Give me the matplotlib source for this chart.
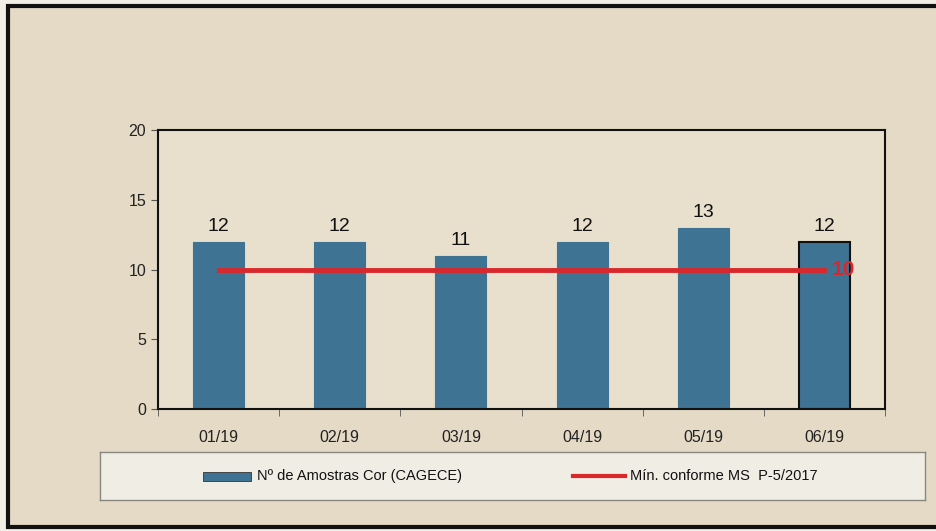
import matplotlib
matplotlib.use("Agg")
import matplotlib.pyplot as plt
from matplotlib.patches import Rectangle
from matplotlib.lines import Line2D
import numpy as np

plt.rcParams['font.family'] = ['Liberation Sans', 'DejaVu Sans']

months = ["01/19", "02/19", "03/19", "04/19", "05/19", "06/19"]
amostras = [12, 12, 11, 12, 13, 12]
minimo = [10, 10, 10, 10, 10, 10]
yticks = [0, 5, 10, 15, 20]

bg = "#e4dac5"
bar_color = "#3f7394"
red = "#d9282c"

fig = plt.figure(figsize=(9.36, 5.31), dpi=100)
fig.patch.set_facecolor("#f1eee6")

# outer frame (right side runs off the page)
fig.patches.append(Rectangle((8 / 936, 4 / 531), 1.0, 521 / 531, transform=fig.transFigure,
                             facecolor=bg, edgecolor="#111111", linewidth=3, zorder=-5))

ax = fig.add_axes([158 / 936, 1 - 409 / 531, 727 / 936, 279 / 531])
ax.set_facecolor("#e8dfcc")

x = np.arange(len(months))
edges = [bar_color] * (len(months) - 1) + ["#111111"]
ax.bar(x, amostras, width=0.42, color=bar_color, edgecolor=edges, linewidth=[0.8] * 5 + [1.5], zorder=2)
for xi, v in zip(x, amostras):
    ax.text(xi, v + 0.45, str(v), ha="center", va="bottom", fontsize=14, color="#111111")

ax.plot(x, minimo, color=red, linewidth=3.5, zorder=3)
ax.text(x[-1] + 0.06, minimo[-1], str(minimo[-1]), color=red, fontsize=15, fontweight="bold",
        ha="left", va="center", zorder=4)

ax.set_xlim(-0.5, len(months) - 0.5)
ax.set_ylim(0, 20)
ax.set_yticks(yticks)
ax.set_xticks(x)
ax.set_xticklabels(months)
ax.set_xticks(np.arange(-0.5, len(months)), minor=True)
ax.tick_params(axis="x", which="major", length=0, pad=15, labelsize=11.5, labelcolor="#222222")
ax.tick_params(axis="x", which="minor", length=5, color="#555555")
ax.tick_params(axis="y", length=5, color="#555555", labelsize=11.5, labelcolor="#222222")
for s in ax.spines.values():
    s.set_color("#111111")
    s.set_linewidth(1.5)

# legend box
lax = fig.add_axes([100 / 936, 1 - 500 / 531, 825 / 936, 48 / 531])
lax.set_xlim(0, 1)
lax.set_ylim(0, 1)
lax.set_xticks([])
lax.set_yticks([])
lax.set_facecolor("#f0ede5")
for s in lax.spines.values():
    s.set_color("#8a8780")
    s.set_linewidth(1)
lax.add_patch(Rectangle((103 / 825, 0.4), 48 / 825, 0.19, facecolor=bar_color, edgecolor="#333333", linewidth=0.6))
lax.text(157 / 825, 0.5, "Nº de Amostras Cor (CAGECE)", fontsize=10.5, va="center", ha="left", color="#111111")
lax.add_line(Line2D([473 / 825, 525 / 825], [0.5, 0.5], color=red, linewidth=3))
lax.text(530 / 825, 0.5, "Mín. conforme MS  P-5/2017", fontsize=10.5, va="center", ha="left", color="#111111")

fig.savefig("out.png", dpi=100, facecolor=fig.get_facecolor())
